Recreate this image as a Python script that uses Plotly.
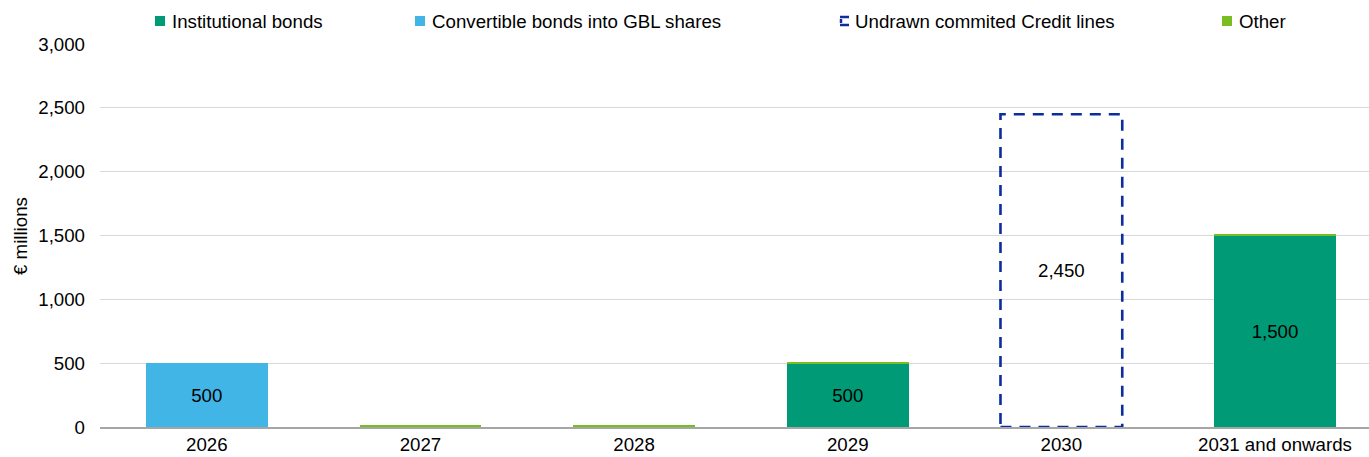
import plotly.graph_objects as go

categories = ["2026", "2027", "2028", "2029", "2030", "2031 and onwards"]
institutional = [0, 0, 0, 500, 0, 1500]
convertible = [500, 0, 0, 0, 0, 0]
undrawn = [0, 0, 0, 0, 2450, 0]
other = [0, 15, 15, 10, 0, 10]
y_ticks = [0, 500, 1000, 1500, 2000, 2500, 3000]

C_INST = "#009a76"
C_CONV = "#41b6e6"
C_UND = "#0d2c9e"
C_OTH = "#78be20"
FONT = "Liberation Sans, Arial, sans-serif"
FS = 18.7
BAR_W = 0.57

W, H = 1369, 457
ML, MR, MT, MB = 100, 0, 44, 30
PW = W - ML - MR
PH = H - MT - MB


def lab(vals):
    return [f"{v:,}" if v >= 100 else "" for v in vals]


fig = go.Figure()
fig.add_bar(x=categories, y=convertible, name="Convertible bonds into GBL shares",
            marker=dict(color=C_CONV, line=dict(width=0)), width=BAR_W,
            text=lab(convertible), textposition="inside", insidetextanchor="middle")
fig.add_bar(x=categories, y=institutional, name="Institutional bonds",
            marker=dict(color=C_INST, line=dict(width=0)), width=BAR_W,
            text=lab(institutional), textposition="inside", insidetextanchor="middle")
fig.add_bar(x=categories, y=undrawn, name="Undrawn commited Credit lines",
            marker=dict(color="rgba(0,0,0,0)", line=dict(width=0)), width=BAR_W,
            text=lab(undrawn), textposition="inside", insidetextanchor="middle")
fig.add_bar(x=categories, y=other, name="Other",
            marker=dict(color=C_OTH, line=dict(width=0)), width=BAR_W,
            text=["" for _ in other], textposition="none")

fig.update_traces(textfont=dict(color="#000000", size=FS, family=FONT),
                  showlegend=False, hoverinfo="skip")

shapes = []
# dashed outline for undrawn credit lines
for i, v in enumerate(undrawn):
    if v > 0:
        shapes.append(dict(type="rect", xref="x", yref="y",
                           x0=i - BAR_W / 2, x1=i + BAR_W / 2, y0=0, y1=v,
                           line=dict(color=C_UND, width=2.6, dash="11px,8px"),
                           fillcolor="rgba(0,0,0,0)", layer="above"))


def px_x(px):
    return (px - ML) / PW


def px_y(py):
    return (H - MB - py) / PH


annotations = []
legend_items = [
    ("Institutional bonds", C_INST, 155, "fill"),
    ("Convertible bonds into GBL shares", C_CONV, 415, "fill"),
    ("Undrawn commited Credit lines", C_UND, 840, "dash"),
    ("Other", C_OTH, 1222, "fill"),
]
for name, col, x0, kind in legend_items:
    if kind == "fill":
        shapes.append(dict(type="rect", xref="paper", yref="paper",
                           x0=px_x(x0), x1=px_x(x0 + 10), y0=px_y(26), y1=px_y(16),
                           fillcolor=col, line=dict(width=0)))
    else:
        for (a, b, c, d) in [(x0, 17, x0 + 9, 17), (x0, 25, x0 + 9, 25),
                             (x0 + 1, 19, x0 + 1, 23)]:
            shapes.append(dict(type="line", xref="paper", yref="paper",
                               x0=px_x(a), y0=px_y(b), x1=px_x(c), y1=px_y(d),
                               line=dict(color=col, width=2.5)))
    annotations.append(dict(text=name, xref="paper", yref="paper",
                            x=px_x(x0 + (13 if kind == "dash" else 15)), y=px_y(21),
                            xanchor="left", yanchor="middle",
                            showarrow=False, font=dict(size=FS, color="#000000", family=FONT)))

# y-axis title
annotations.append(dict(text="€ millions", xref="paper", yref="paper",
                        x=px_x(20), y=px_y(236), xanchor="center", yanchor="middle",
                        textangle=-90, showarrow=False,
                        font=dict(size=FS, color="#000000", family=FONT)))

fig.update_layout(
    width=W, height=H,
    margin=dict(l=ML, r=MR, t=MT, b=MB),
    barmode="stack",
    plot_bgcolor="white", paper_bgcolor="white",
    font=dict(family=FONT, size=FS, color="#000000"),
    shapes=shapes, annotations=annotations,
    showlegend=False,
    xaxis=dict(range=[-0.5, 5.44], showgrid=False, showline=True, linecolor="#a6a6a6",
               linewidth=1.5, ticks="", tickfont=dict(size=FS, color="#000000"),
               fixedrange=True),
    yaxis=dict(range=[0, 3000], tickvals=y_ticks, tickformat=",d",
               showgrid=True, gridcolor="#d9d9d9", gridwidth=1, zeroline=False,
               showline=False, ticks="", ticklabelstandoff=14,
               tickfont=dict(size=FS, color="#000000"),
               fixedrange=True),
)

fig.write_html("out.html", config={"displayModeBar": False},
               post_script="document.body.style.margin='0px';document.body.style.overflow='hidden';")
